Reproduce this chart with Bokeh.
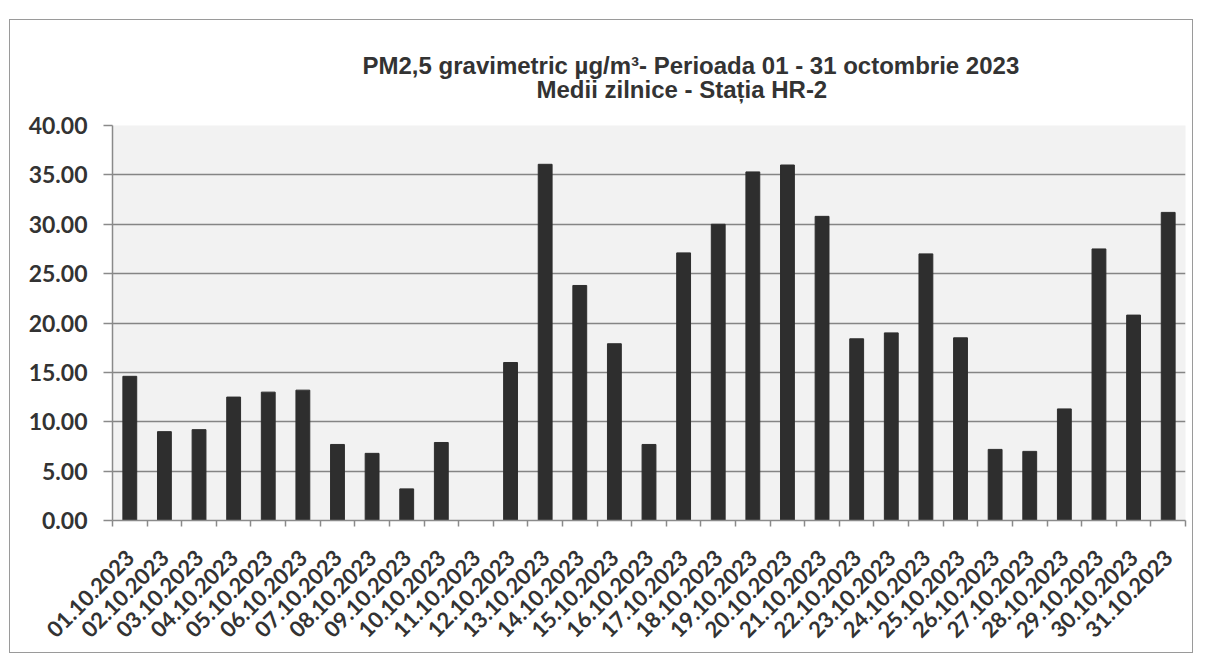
from bokeh.plotting import figure
from bokeh.models import FixedTicker, Range1d, ColumnDataSource, Title, NumeralTickFormatter, Spacer
from bokeh.layouts import column, row
from bokeh.embed import file_html
from bokeh.resources import INLINE
import math

dates = ["01.10.2023", "02.10.2023", "03.10.2023", "04.10.2023", "05.10.2023", "06.10.2023",
         "07.10.2023", "08.10.2023", "09.10.2023", "10.10.2023", "11.10.2023", "12.10.2023",
         "13.10.2023", "14.10.2023", "15.10.2023", "16.10.2023", "17.10.2023", "18.10.2023",
         "19.10.2023", "20.10.2023", "21.10.2023", "22.10.2023", "23.10.2023", "24.10.2023",
         "25.10.2023", "26.10.2023", "27.10.2023", "28.10.2023", "29.10.2023", "30.10.2023",
         "31.10.2023"]
pm25 = [14.6, 9.0, 9.2, 12.5, 13.0, 13.2, 7.7, 6.8, 3.2, 7.9, float("nan"), 16.0,
        36.07, 23.8, 17.9, 7.7, 27.1, 30.0, 35.3, 36.0, 30.8, 18.4, 19.0, 27.0,
        18.5, 7.2, 7.0, 11.3, 27.5, 20.8, 31.2]
y_ticks = [0, 5, 10, 15, 20, 25, 30, 35, 40]
title_line1 = "PM2,5 gravimetric µg/m³- Perioada 01 - 31 octombrie 2023"
title_line2 = "Medii zilnice - Stația HR-2"

n = len(dates)
centers = [i + 0.5 for i in range(n)]
bounds = [float(i) for i in range(n + 1)]

src = ColumnDataSource(dict(x=centers, top=pm25, date=dates))

p = figure(width=1184, height=634, output_backend="svg", toolbar_location=None,
           x_range=Range1d(0, n), y_range=Range1d(0, 40),
           min_border_left=102, min_border_right=9, min_border_top=105, min_border_bottom=134)
p.styles = {"border": "1px solid #9a9a9a"}

p.background_fill_color = "#f2f2f2"
p.border_fill_color = "white"
p.outline_line_color = None

p.vbar(x="x", top="top", width=0.4, bottom=0, source=src, fill_color="#2e2e2e", line_color="#2e2e2e")

# y axis
p.yaxis.ticker = FixedTicker(ticks=y_ticks)
p.yaxis.formatter = NumeralTickFormatter(format="0.00")
p.yaxis.axis_line_color = "#8a8a8a"
p.yaxis.axis_line_width = 1.5
p.yaxis.major_tick_line_color = "#8a8a8a"
p.yaxis.major_tick_line_width = 1.5
p.yaxis.major_tick_out = 9
p.yaxis.major_tick_in = 0
p.yaxis.minor_tick_line_color = None
p.yaxis.major_label_standoff = 16
p.yaxis.major_label_text_font = "Lato"
p.yaxis.major_label_text_font_style = "bold"
p.yaxis.major_label_text_font_size = "23px"
p.yaxis.major_label_text_color = "#333333"

# x axis
p.xaxis.ticker = FixedTicker(ticks=centers, minor_ticks=bounds)
p.xaxis.major_label_overrides = {c: d for c, d in zip(centers, dates)}
p.xaxis.major_label_orientation = math.pi / 4
p.xaxis.axis_line_color = "#8a8a8a"
p.xaxis.axis_line_width = 1.5
p.xaxis.major_tick_line_color = None
p.xaxis.major_tick_out = 0
p.xaxis.major_tick_in = 0
p.xaxis.minor_tick_line_color = "#8a8a8a"
p.xaxis.minor_tick_line_width = 1.5
p.xaxis.minor_tick_out = 6
p.xaxis.minor_tick_in = 0
p.xaxis.major_label_standoff = 27
p.xaxis.major_label_text_font = "Lato"
p.xaxis.major_label_text_font_style = "bold"
p.xaxis.major_label_text_font_size = "22px"
p.xaxis.major_label_text_color = "#333333"

# grid
p.xgrid.grid_line_color = None
p.ygrid.ticker = FixedTicker(ticks=y_ticks)
p.ygrid.grid_line_color = "#858585"
p.ygrid.grid_line_width = 1.5

# title (two lines; last added sits on top)
p.add_layout(Title(text=title_line2, align="left", offset=424, standoff=46,
                   text_font="Liberation Sans", text_font_style="bold",
                   text_font_size="24px", text_color="#333333"), "above")
p.add_layout(Title(text=title_line1, align="left", offset=250, standoff=-57,
                   text_font="Liberation Sans", text_font_style="bold",
                   text_font_size="24px", text_color="#333333"), "above")

layout = column(Spacer(height=19), row(Spacer(width=9), p))
open("out.html", "w").write(file_html(layout, INLINE))
